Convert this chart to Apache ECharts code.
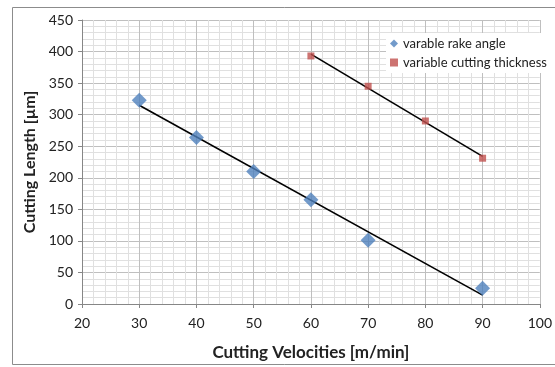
<!DOCTYPE html>
<html>
<head>
<meta charset="utf-8">
<script src="https://cdn.jsdelivr.net/npm/echarts@6/dist/echarts.min.js"></script>
<style>
  html, body { margin: 0; padding: 0; background: #fff; }
  #chart { width: 555px; height: 367px; }
</style>
</head>
<body>
<div id="chart"></div>
<script>
// values
const rakeAngle = [[30, 323], [40, 264], [50, 210], [60, 165], [70, 101], [90, 25]];
const cuttingThickness = [[60, 393], [70, 345], [80, 290], [90, 231]];
// linear trendline end points (as drawn)
const rakeTrend = [[30, 315], [90, 14]];
const thicknessTrend = [[60, 396], [90, 234]];

const font = "Lato, 'Open Sans', sans-serif";
const blue = '#4F81BD';
const red = '#C0504D';

const chart = echarts.init(document.getElementById('chart'), null, { renderer: 'canvas' });

chart.setOption({
  animation: false,
  backgroundColor: '#fff',
  graphic: [{
    type: 'rect',
    shape: { x: 12.5, y: 7.5, width: 560, height: 357 },
    style: { fill: 'none', stroke: '#8c8c8c', lineWidth: 1 },
    silent: true
  }],
  grid: { left: 82, right: 14, top: 20, bottom: 63 },
  legend: {
    orient: 'vertical',
    left: 386,
    top: 33,
    itemWidth: 8,
    itemHeight: 8,
    itemGap: 6,
    padding: [4, 4, 4, 4],
    backgroundColor: '#fff',
    textStyle: { fontFamily: font, fontSize: 13, color: '#222' },
    data: [
      { name: 'varable rake angle', icon: 'diamond' },
      { name: 'variable cutting thickness', icon: 'rect' }
    ]
  },
  xAxis: {
    type: 'value',
    min: 20, max: 100, interval: 10,
    name: 'Cutting Velocities [m/min]',
    nameLocation: 'middle',
    nameGap: 40,
    nameTextStyle: { fontFamily: font, fontSize: 17, fontWeight: 'bold', color: '#222' },
    axisLine: { show: true, lineStyle: { color: '#868686' } },
    axisTick: { show: true, length: 4, lineStyle: { color: '#868686' } },
    axisLabel: { fontFamily: font, fontSize: 14, color: '#222', margin: 12 },
    splitLine: { show: true, lineStyle: { color: '#bfbfbf' } },
    minorTick: { show: false, splitNumber: 5 },
    minorSplitLine: { show: true, lineStyle: { color: '#e0e0e0' } }
  },
  yAxis: {
    type: 'value',
    min: 0, max: 450, interval: 50,
    name: 'Cutting Length [µm]',
    nameLocation: 'middle',
    nameGap: 39,
    nameTextStyle: { fontFamily: font, fontSize: 16, fontWeight: 'bold', color: '#222' },
    axisLine: { show: true, lineStyle: { color: '#868686' } },
    axisTick: { show: true, length: 4, lineStyle: { color: '#868686' } },
    axisLabel: { fontFamily: font, fontSize: 14, color: '#222', margin: 9 },
    splitLine: { show: true, lineStyle: { color: '#bfbfbf' } },
    minorTick: { show: false, splitNumber: 5 },
    minorSplitLine: { show: true, lineStyle: { color: '#e0e0e0' } }
  },
  series: [
    {
      name: 'rake trend', type: 'line', data: rakeTrend,
      symbol: 'none', lineStyle: { color: '#000', width: 1.6 }, z: 3
    },
    {
      name: 'thickness trend', type: 'line', data: thicknessTrend,
      symbol: 'none', lineStyle: { color: '#000', width: 1.6 }, z: 3
    },
    {
      name: 'varable rake angle', type: 'scatter', data: rakeAngle,
      symbol: 'diamond', symbolSize: 15, itemStyle: { color: blue }, z: 4
    },
    {
      name: 'variable cutting thickness', type: 'scatter', data: cuttingThickness,
      symbol: 'rect', symbolSize: 7, itemStyle: { color: red }, z: 4
    }
  ]
});
</script>
</body>
</html>
